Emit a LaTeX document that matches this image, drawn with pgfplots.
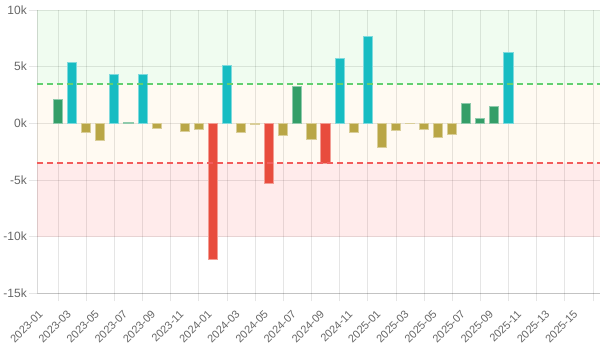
\documentclass[border=0pt]{standalone}
\usepackage{pgfplots}
\pgfplotsset{compat=1.18}
\usepackage{fontspec}
\setmainfont{Liberation Sans}
\definecolor{tickgray}{RGB}{102,102,102}
\definecolor{bcyan}{RGB}{23,188,194}
\definecolor{bgreen}{RGB}{52,158,104}
\definecolor{bolive}{RGB}{185,166,70}
\definecolor{bred}{RGB}{232,76,61}
\definecolor{dgreen}{RGB}{98,208,112}
\definecolor{dred}{RGB}{242,92,92}
\begin{document}
\begin{tikzpicture}
\useasboundingbox (0,0) rectangle (600pt,350pt);
\begin{axis}[
  at={(37pt,56.7pt)}, anchor=south west,
  scale only axis, width=563pt, height=283.3pt,
  xmin=-0.5, xmax=39.5, ymin=-15000, ymax=10000,
  axis lines*=left,
  axis line style={draw=black, draw opacity=0.15, line width=0.8pt},
  scaled y ticks=false,
  ytick={-15000,-10000,-5000,0,5000,10000},
  yticklabels={-15k,-10k,-5k,0k,5k,10k},
  ymajorgrids,
  xtick={0,2,...,38},
  xticklabels={2023-01,2023-03,2023-05,2023-07,2023-09,2023-11,2024-01,2024-03,2024-05,2024-07,2024-09,2024-11,2025-01,2025-03,2025-05,2025-07,2025-09,2025-11,2025-13,2025-15},
  minor xtick={1,3,...,39},
  xminorgrids,
  grid style={draw=black, draw opacity=0.1, line width=0.8pt},
  minor grid style={draw=black, draw opacity=0.1, line width=0.8pt},
  tick align=outside,
  major tick length=8pt, minor tick length=8pt,
  major x tick style={draw=none},
  tick style={draw=black, draw opacity=0.1, line width=0.8pt},
  ticklabel style={text=tickgray},
  yticklabel style={font=\fontsize{12}{14}\selectfont, anchor=east, inner sep=0pt, xshift=-2pt},
  xticklabel style={font=\fontsize{11}{13}\selectfont, xshift=-6pt, yshift=-8pt, rotate=45, anchor=north east, inner sep=0pt},
  clip=true,
]
% background bands
\addplot[draw=none, fill={rgb,255:red,0;green,200;blue,0}, fill opacity=0.06] coordinates {(-0.5,3500) (39.5,3500) (39.5,10000) (-0.5,10000)} -- cycle;
\addplot[draw=none, fill={rgb,255:red,255;green,165;blue,0}, fill opacity=0.05] coordinates {(-0.5,-3500) (39.5,-3500) (39.5,3500) (-0.5,3500)} -- cycle;
\addplot[draw=none, fill={rgb,255:red,255;green,0;blue,0}, fill opacity=0.08] coordinates {(-0.5,-10000) (39.5,-10000) (39.5,-3500) (-0.5,-3500)} -- cycle;
% bars
\addplot[ybar, bar width=9.1pt, bar shift=0pt, fill=bcyan, draw=bcyan!55!white, line width=1pt] coordinates {(2,5380) (5,4350) (7,4290) (13,5080) (21,5700) (23,7640) (33,6290)};
\addplot[ybar, bar width=9.1pt, bar shift=0pt, fill=bgreen, draw=bgreen!55!white, line width=1pt] coordinates {(1,2120) (6,80) (18,3290) (30,1770) (31,440) (32,1440)};
\addplot[ybar, bar width=9.1pt, bar shift=0pt, fill=bolive, draw=bolive!55!white, line width=1pt] coordinates {(3,-800) (4,-1560) (8,-440) (10,-740) (11,-530) (14,-830) (15,-120) (17,-1090) (19,-1450) (22,-830) (24,-2090) (25,-620) (26,-50) (27,-530) (28,-1240) (29,-970)};
\addplot[ybar, bar width=9.1pt, bar shift=0pt, fill=bred, draw=bred!55!white, line width=1pt] coordinates {(12,-11980) (16,-5270) (20,-3550)};
% threshold lines
\addplot[dgreen, line width=2pt, dash pattern=on 6pt off 4pt] coordinates {(-0.5,3500) (39.5,3500)};
\addplot[dred, line width=2pt, dash pattern=on 6pt off 4pt] coordinates {(-0.5,-3500) (39.5,-3500)};
\end{axis}
\end{tikzpicture}
\end{document}
